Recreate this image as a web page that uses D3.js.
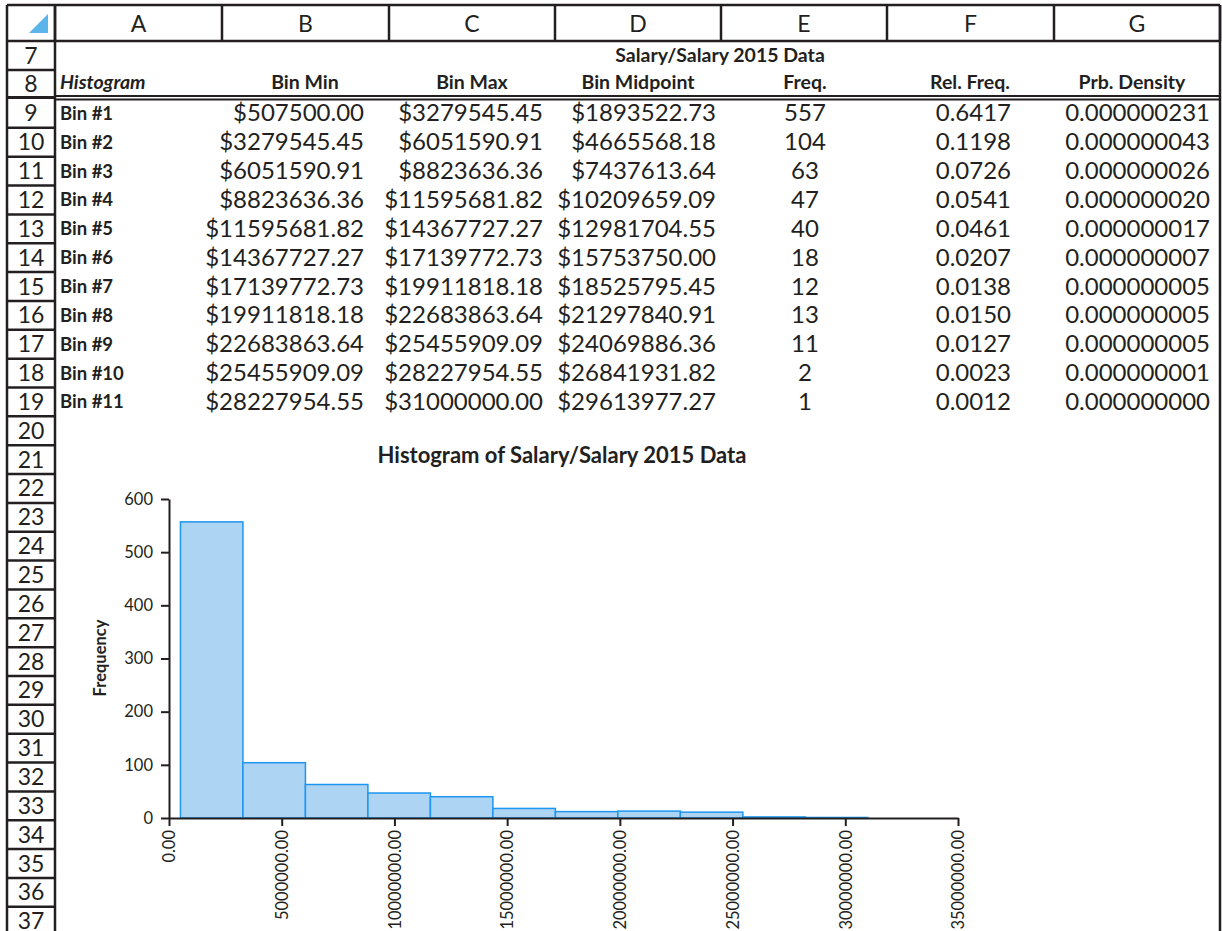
<!DOCTYPE html>
<html>
<head>
<meta charset="utf-8">
<script src="https://cdn.jsdelivr.net/npm/d3@7"></script>
<style>
  body { margin: 0; background: #fff; }
  svg { display: block; }
  text { font-family: Lato, "Open Sans", sans-serif; fill: #231f20; }
</style>
</head>
<body>
<script>
const width = 1222;
const height = 931;

// Table data
const binLabels = ["Bin #1", "Bin #2", "Bin #3", "Bin #4", "Bin #5", "Bin #6", "Bin #7", "Bin #8", "Bin #9", "Bin #10", "Bin #11"];
const binMin = [507500.00, 3279545.45, 6051590.91, 8823636.36, 11595681.82, 14367727.27, 17139772.73, 19911818.18, 22683863.64, 25455909.09, 28227954.55];
const binMax = [3279545.45, 6051590.91, 8823636.36, 11595681.82, 14367727.27, 17139772.73, 19911818.18, 22683863.64, 25455909.09, 28227954.55, 31000000.00];
const binMid = [1893522.73, 4665568.18, 7437613.64, 10209659.09, 12981704.55, 15753750.00, 18525795.45, 21297840.91, 24069886.36, 26841931.82, 29613977.27];
const freq = [557, 104, 63, 47, 40, 18, 12, 13, 11, 2, 1];
const relFreq = [0.6417, 0.1198, 0.0726, 0.0541, 0.0461, 0.0207, 0.0138, 0.0150, 0.0127, 0.0023, 0.0012];
const density = [0.000000231, 0.000000043, 0.000000026, 0.000000020, 0.000000017, 0.000000007, 0.000000005, 0.000000005, 0.000000005, 0.000000001, 0.000000000];

const columnLetters = ["A", "B", "C", "D", "E", "F", "G"];
const headers = ["Bin Min", "Bin Max", "Bin Midpoint", "Freq.", "Rel. Freq.", "Prb. Density"];
const xTicks = [0, 5000000, 10000000, 15000000, 20000000, 25000000, 30000000, 35000000];
const yTicks = [0, 100, 200, 300, 400, 500, 600];

const ink = "#231f20";

const svg = d3.select("body").append("svg")
    .attr("width", width)
    .attr("height", height);

svg.append("rect").attr("width", width).attr("height", height).attr("fill", "#fff");

// ---- spreadsheet frame ----
const colEdges = [55, 222, 389, 555, 721, 887, 1054, 1220];
const rowTop = i => 99 + (i - 9) * 28.85;   // rows 9..37
const frame = svg.append("g").attr("stroke", ink).attr("fill", "none");

// top header row
frame.append("line").attr("x1", 7).attr("x2", 1220).attr("y1", 5).attr("y2", 5).attr("stroke-width", 2.5);
frame.append("line").attr("x1", 7).attr("x2", 1220).attr("y1", 41).attr("y2", 41).attr("stroke-width", 2.5);
colEdges.forEach(x => {
    frame.append("line").attr("x1", x).attr("x2", x).attr("y1", 5).attr("y2", 41).attr("stroke-width", 2.5);
});
// left border, row header column and right border
frame.append("line").attr("x1", 7).attr("x2", 7).attr("y1", 5).attr("y2", height).attr("stroke-width", 2.5);
frame.append("line").attr("x1", 55).attr("x2", 55).attr("y1", 5).attr("y2", height).attr("stroke-width", 2.5);
frame.append("line").attr("x1", 1220).attr("x2", 1220).attr("y1", 5).attr("y2", height).attr("stroke-width", 2.5);

// row separators in row-header column
frame.append("line").attr("x1", 7).attr("x2", 55).attr("y1", 70).attr("y2", 70).attr("stroke-width", 2.5);
frame.append("line").attr("x1", 7).attr("x2", 55).attr("y1", 97.5).attr("y2", 97.5).attr("stroke-width", 3);
for (let r = 10; r <= 37; r++) {
    frame.append("line").attr("x1", 7).attr("x2", 55).attr("y1", rowTop(r)).attr("y2", rowTop(r)).attr("stroke-width", 2.5);
}
// double line under header row 8
frame.append("line").attr("x1", 55).attr("x2", 1220).attr("y1", 96).attr("y2", 96).attr("stroke-width", 2);
frame.append("line").attr("x1", 55).attr("x2", 1220).attr("y1", 99.5).attr("y2", 99.5).attr("stroke-width", 2);

// corner triangle
svg.append("path").attr("d", "M48,14 L48,33 L29,33 Z").attr("fill", "#5bb4ea");

// column letters
svg.append("g").selectAll("text").data(columnLetters).join("text")
    .attr("x", (d, i) => (colEdges[i] + colEdges[i + 1]) / 2)
    .attr("y", 32)
    .attr("text-anchor", "middle")
    .attr("font-size", 23)
    .text(d => d);

// row numbers
const rowNums = d3.range(7, 38);
const rowCenter = r => r === 7 ? 56 : r === 8 ? 84 : rowTop(r) + 14.4;
svg.append("g").selectAll("text").data(rowNums).join("text")
    .attr("x", 31)
    .attr("y", d => Math.min(rowCenter(d) + 8, 930))
    .attr("text-anchor", "middle")
    .attr("font-size", 23)
    .text(d => d);

// table title and headers
svg.append("text")
    .attr("x", 720).attr("y", 62)
    .attr("text-anchor", "middle")
    .attr("font-size", 19.5).attr("font-weight", "bold")
    .text("Salary/Salary 2015 Data");

svg.append("text")
    .attr("x", 60).attr("y", 89)
    .attr("font-size", 19.5).attr("font-weight", "bold").attr("font-style", "italic")
    .text("Histogram");

const headerX = [305, 472, 638, 805, 970, 1132];
svg.append("g").selectAll("text").data(headers).join("text")
    .attr("x", (d, i) => headerX[i])
    .attr("y", 89)
    .attr("text-anchor", "middle")
    .attr("font-size", 19.5).attr("font-weight", "bold")
    .text(d => d);

// table body
const money = v => "$" + v.toFixed(2);
const body = svg.append("g");
binLabels.forEach((lab, i) => {
    const cy = rowTop(9 + i) + 14.4;
    body.append("text").attr("x", 60).attr("y", cy + 6.5)
        .attr("font-size", 18.5).attr("font-weight", "bold").text(lab);
    const cells = [
        [money(binMin[i]), 364, "end"],
        [money(binMax[i]), 543, "end"],
        [money(binMid[i]), 716, "end"],
        [String(freq[i]), 805, "middle"],
        [relFreq[i].toFixed(4), 1011, "end"],
        [density[i].toFixed(9), 1210, "end"]
    ];
    cells.forEach(([t, x, anchor]) => {
        body.append("text").attr("x", x).attr("y", cy + 8)
            .attr("text-anchor", anchor)
            .attr("font-size", 24)
            .text(t);
    });
});

// ---- histogram chart ----
const x = d3.scaleLinear().domain([0, 35000000]).range([169, 958]);
const y = d3.scaleLinear().domain([0, 600]).range([818, 499]);

svg.append("text")
    .attr("x", 562).attr("y", 463)
    .attr("text-anchor", "middle")
    .attr("font-size", 22).attr("font-weight", "bold")
    .text("Histogram of Salary/Salary 2015 Data");

svg.append("g").selectAll("rect")
    .data(freq)
    .join("rect")
    .attr("x", (d, i) => x(binMin[i]))
    .attr("width", (d, i) => x(binMax[i]) - x(binMin[i]))
    .attr("y", d => y(d))
    .attr("height", d => y(0) - y(d))
    .attr("fill", "#aed4f3")
    .attr("stroke", "#1e96f0")
    .attr("stroke-width", 1.5);

const yAxis = svg.append("g")
    .attr("transform", "translate(169,0)")
    .call(d3.axisLeft(y).tickValues(yTicks).tickSize(8).tickSizeOuter(0).tickPadding(8));
yAxis.selectAll("text").attr("font-size", 16.5).attr("fill", ink).style("font-family", "Lato, sans-serif");

const xAxis = svg.append("g")
    .attr("transform", "translate(0,818)")
    .call(d3.axisBottom(x).tickValues(xTicks).tickFormat(d3.format(".2f")).tickSize(8).tickSizeOuter(0));
xAxis.selectAll("text")
    .attr("font-size", 16.5)
    .attr("fill", ink)
    .style("font-family", "Lato, sans-serif")
    .attr("transform", "rotate(-90)")
    .attr("text-anchor", "end")
    .attr("x", -12)
    .attr("y", 0)
    .attr("dy", "0.35em");

[yAxis, xAxis].forEach(a => {
    a.selectAll("path, line").attr("stroke", ink).attr("stroke-width", 2);
});

svg.append("text")
    .attr("transform", "translate(106,658) rotate(-90)")
    .attr("text-anchor", "middle")
    .attr("font-size", 16.5).attr("font-weight", "bold")
    .text("Frequency");
</script>
</body>
</html>
